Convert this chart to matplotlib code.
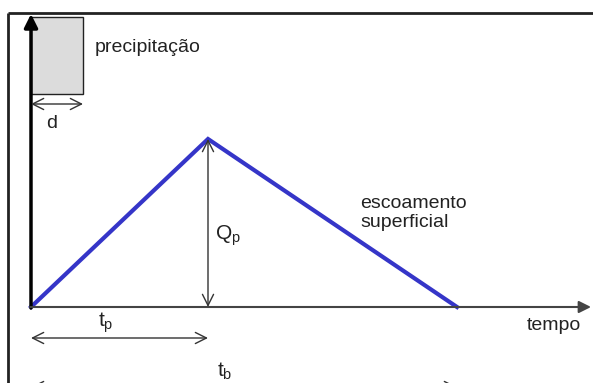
import matplotlib.pyplot as plt
from matplotlib.patches import Rectangle

# hydrograph (diagram units: origin at the start of the rain / time axis)
tempo = [0, 177, 426]
vazao = [0, 168, 0]
t_pico = 177
t_base = 426
q_pico = 168

# rain block
chuva_inicio = 0
duracao = 52
chuva_base = 213
chuva_topo = 290

plt.rcParams['font.family'] = ['Liberation Sans', 'DejaVu Sans']

fig = plt.figure(figsize=(5.93, 3.83), dpi=100)
ax = fig.add_axes([0, 0, 1, 1])
ax.set_xlim(-31, 562)
ax.set_ylim(-76, 307)
ax.axis('off')

# outer frame (cut by the image edges)
ax.plot([-23, 570], [294, 294], color='#222222', lw=2, solid_capstyle='butt')
ax.plot([-23, -23], [294, -90], color='#222222', lw=2, solid_capstyle='butt')

# rain rectangle
ax.add_patch(Rectangle((chuva_inicio, chuva_base), duracao, chuva_topo - chuva_base,
                       facecolor='#dcdcdc', edgecolor='#222222', lw=1))
ax.text(64, 259, 'precipitação', fontsize=14, va='center', ha='left', color='#222222')

# axes with filled arrowheads
ax.annotate('', xy=(0, 293), xytext=(0, -1),
            arrowprops=dict(arrowstyle='-|>', color='black', lw=2.5, mutation_scale=20,
                            shrinkA=0, shrinkB=0))
ax.annotate('', xy=(560, 0), xytext=(-1, 0),
            arrowprops=dict(arrowstyle='-|>', color='#444444', lw=1.5, mutation_scale=18,
                            shrinkA=0, shrinkB=0))
ax.text(523, -19, 'tempo', fontsize=14, ha='center', va='center', color='#222222')

# hydrograph
ax.plot(tempo, vazao, color='#3535c8', lw=3, solid_joinstyle='miter')
ax.text(329, 94, 'escoamento\nsuperficial', fontsize=14, ha='left', va='center',
        color='#222222', linespacing=1.2)

# double arrows
seta = dict(arrowstyle='<->', color='#333333', lw=1, mutation_scale=20,
            shrinkA=0, shrinkB=0)
ax.annotate('', xy=(chuva_inicio, 203), xytext=(chuva_inicio + duracao, 203), arrowprops=seta)
ax.text(21, 184, 'd', fontsize=14, ha='center', va='center', color='#222222')

ax.annotate('', xy=(t_pico, q_pico), xytext=(t_pico, 0), arrowprops=seta)
ax.text(184, 71, '$\\mathregular{Q_p}$', fontsize=15, ha='left', va='center', color='#222222')

ax.annotate('', xy=(0, -31), xytext=(t_pico, -31), arrowprops=seta)
ax.text(75, -16, '$\\mathregular{t_p}$', fontsize=15, ha='center', va='center', color='#222222')

ax.annotate('', xy=(0, -80), xytext=(t_base, -80), arrowprops=seta,
            annotation_clip=False)
ax.text(194, -64, '$\\mathregular{t_b}$', fontsize=15, ha='center', va='center', color='#222222')

fig.savefig('out.png', dpi=100, facecolor='white')
